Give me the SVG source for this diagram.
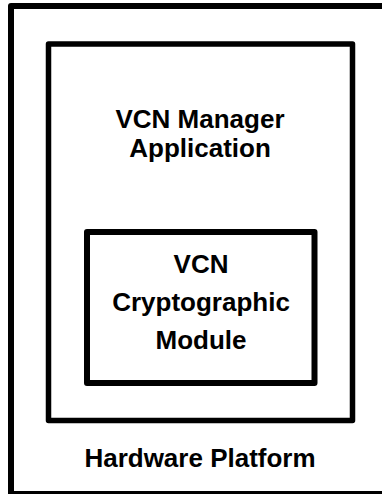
<svg xmlns="http://www.w3.org/2000/svg" width="382" height="494" viewBox="0 0 382 494">
<style>
.box{fill:none;stroke:#000;stroke-width:6;stroke-linejoin:round}
.t{font-family:"Liberation Sans",Arial,sans-serif;font-weight:bold;font-size:26px;text-anchor:middle;fill:#000}
</style>
<rect x="0" y="0" width="382" height="494" fill="#fff"/>
<g id="hardware-platform">
<rect class="box" x="11" y="6" width="380" height="488"/>
<text class="t" x="200" y="467">Hardware Platform</text>
</g>
<g id="vcn-manager-application">
<rect class="box" x="48.5" y="44" width="304" height="376.5" style="stroke-width:5.5"/>
<text class="t" x="200" y="128">VCN Manager</text>
<text class="t" x="200" y="157">Application</text>
</g>
<g id="vcn-cryptographic-module">
<rect class="box" x="87" y="232" width="227.5" height="151"/>
<text class="t" x="201" y="273">VCN</text>
<text class="t" x="201" y="311">Cryptographic</text>
<text class="t" x="201" y="349">Module</text>
</g>
<g id="connectors"/>
</svg>
